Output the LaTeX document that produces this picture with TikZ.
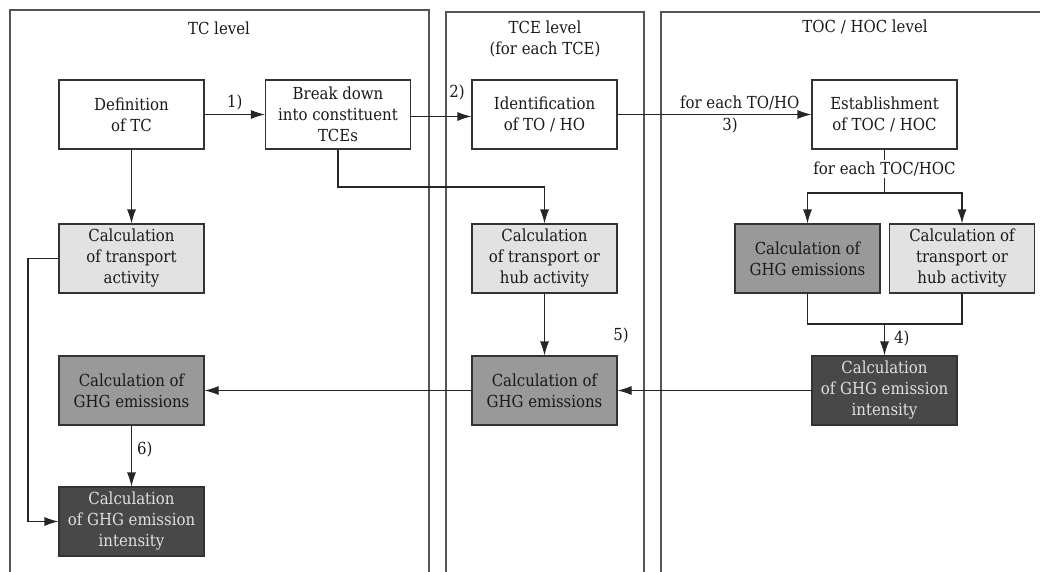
\documentclass[tikz,border=0pt]{standalone}
\usepackage{fontspec}
\setmainfont{DejaVu Serif Condensed}
\usetikzlibrary{arrows.meta}
\definecolor{lightfill}{HTML}{E2E2E2}
\definecolor{midfill}{HTML}{999999}
\definecolor{darkfill}{HTML}{484848}
\definecolor{darktext}{HTML}{E0E0E0}
\definecolor{panelline}{HTML}{555555}
\begin{document}
\begin{tikzpicture}[x=1pt,y=-1pt,
  txt/.style={font=\fontsize{16.6}{21}\selectfont, text=black!90},
  box/.style={draw=black!80, line width=1.1pt, minimum width=145pt, minimum height=69pt,
    inner sep=0pt, align=center, txt},
  plainbox/.style={box, fill=white},
  lightbox/.style={box, fill=lightfill},
  midbox/.style={box, fill=midfill},
  darkbox/.style={box, fill=darkfill, text=darktext},
  panel/.style={draw=panelline, line width=1.1pt},
  conn/.style={draw=black!85, line width=1.1pt},
  arr/.style={conn, -{Latex[length=14pt,width=9pt]}},
  lbl/.style={txt, inner sep=1pt}
]
\useasboundingbox (0,0) rectangle (1040,571);
\begin{scope}
\clip (0,0) rectangle (1040,571);
\draw[panel] (10,585) -- (10,10) -- (429,10) -- (429,585);
\draw[panel] (446,585) -- (446,12) -- (644,12) -- (644,585);
\draw[panel] (661,585) -- (661,12) -- (1060,12);
\end{scope}

\node[lbl] (t1) at (219,28) {TC level};
\node[lbl, align=center] (t2) at (545,39) {TCE level\\(for each TCE)};
\node[lbl] (t3) at (865,27) {TOC / HOC level};

\node[plainbox] (def) at (131.5,114.5) {Definition\\of TC};
\node[plainbox] (brk) at (338,114.5) {Break down\\into constituent\\TCEs};
\node[plainbox] (ide) at (544.5,114.5) {Identification\\of TO / HO};
\node[plainbox] (est) at (884.5,114.5) {Establishment\\of TOC / HOC};

\node[lightbox] (tcact) at (131.5,258.5) {Calculation\\of transport\\activity};
\node[lightbox] (tceact) at (544.5,258.5) {Calculation\\of transport or\\hub activity};
\node[midbox] (tocghg) at (807.5,258.5) {Calculation of\\GHG emissions};
\node[lightbox] (tocact) at (962,258.5) {Calculation of\\transport or\\hub activity};

\node[darkbox] (tocint) at (884.5,390.5) {Calculation\\of GHG emission\\intensity};
\node[midbox] (tceghg) at (544.5,390.5) {Calculation of\\GHG emissions};
\node[midbox] (tcghg) at (131.5,390.5) {Calculation of\\GHG emissions};
\node[darkbox] (tcint) at (131.5,521.5) {Calculation\\of GHG emission\\intensity};

% 1)
\draw[arr] (def.east) -- node[lbl, above, yshift=3pt] {1)} (brk.west |- def.east);
% 2)
\draw[arr] ([yshift=-2pt]brk.east) -- ([yshift=-2pt]ide.west);
\node[lbl] (l2) at (457,92) {2)};
% 3)
\draw[arr] (ide.east) -- node[lbl, above, pos=0.63, yshift=3pt] {for each TO/HO}
  node[lbl, below, pos=0.58, yshift=-2pt] {3)} (est.west);
% for each TOC/HOC split
\coordinate (split) at (884.5,193);
\draw[conn] (est.south) -- (split);
\node[lbl, fill=white, inner sep=2pt] (fe) at (884.5,169) {for each TOC/HOC};
\draw[arr] (split) -| (tocghg.north);
\draw[arr] (split) -| (tocact.north);
% Def -> transport activity
\draw[arr] (def.south) -- (tcact.north);
% Break -> TCE activity
\coordinate (bk) at (338,187);
\draw[arr] (brk.south) -- (bk) -| (tceact.north);
% 5)
\draw[arr] (tceact.south) -- (tceghg.north);
\node[lbl] (l5) at (621,335) {5)};
% 4)
\coordinate (join) at (884.5,324);
\draw[conn] (tocghg.south) |- (join);
\draw[conn] (tocact.south) |- (join);
\draw[arr] (join) -- node[lbl, right, xshift=8pt, pos=0.45] {4)} (tocint.north);
% intensity -> TCE GHG -> TC GHG
\draw[arr] (tocint.west) -- (tceghg.east);
\draw[arr] (tceghg.west) -- (tcghg.east);
% 6)
\draw[arr] (tcghg.south) -- node[lbl, right, xshift=4pt, pos=0.4] {6)} (tcint.north);
% transport activity -> TC intensity
\coordinate (lft) at (28,258.5);
\draw[arr] (tcact.west) -- (lft) |- (tcint.west);
\end{tikzpicture}
\end{document}
